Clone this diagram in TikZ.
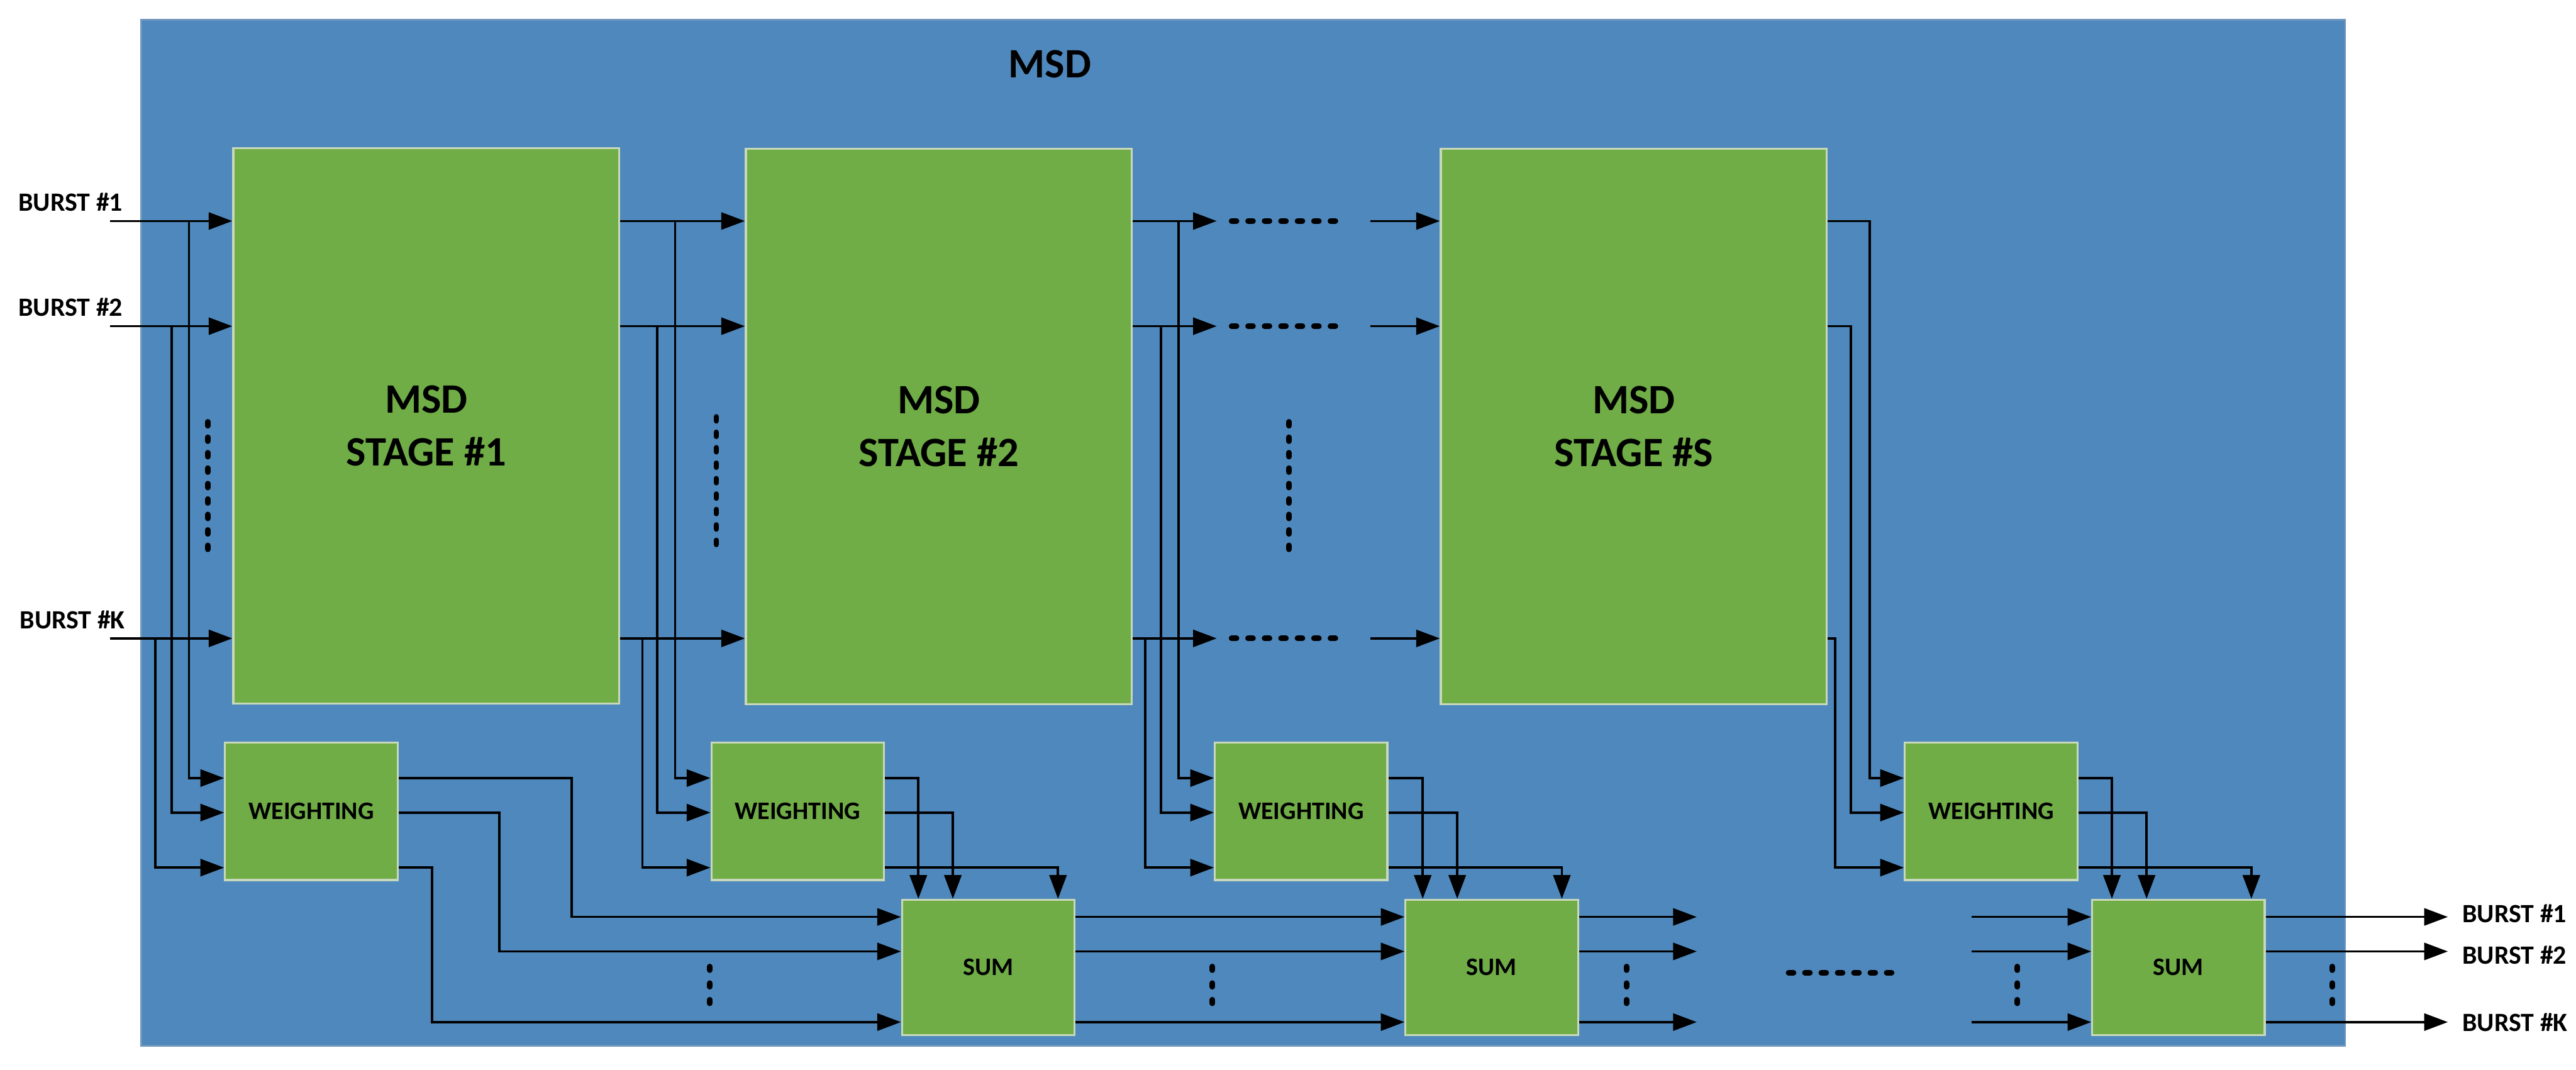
\documentclass[tikz,border=0pt]{standalone}
\usepackage{fontspec}
\setmainfont{Carlito}
\usetikzlibrary{arrows.meta,calc}
\definecolor{bgblue}{RGB}{79,136,188}
\definecolor{blueedge}{RGB}{110,150,190}
\definecolor{boxgreen}{RGB}{112,173,71}
\definecolor{boxedge}{RGB}{200,216,186}
\begin{document}
\begin{tikzpicture}[x=0.25mm,y=-0.25mm,
  wire/.style={line width=0.35mm, black},
  arr/.style={wire, -{Triangle[length=3.6mm,width=2.6mm]}},
  stagebox/.style={draw=boxedge, line width=0.3mm, fill=boxgreen, inner sep=0pt,
    minimum width=58.75mm, minimum height=84.5mm, align=center,
    font=\bfseries\fontsize{18.1pt}{22.9pt}\selectfont},
  smallbox/.style={draw=boxedge, line width=0.3mm, fill=boxgreen, inner sep=0pt,
    minimum width=26.25mm, font=\bfseries\fontsize{10.9pt}{13pt}\selectfont},
  wbox/.style={smallbox, minimum height=20.9mm},
  sbox/.style={smallbox, minimum height=20.6mm},
  lab/.style={inner sep=0pt, font=\bfseries\fontsize{11.4pt}{13pt}\selectfont},
  dotstroke/.style={line width=0.85mm, line cap=round, black}
]
\useasboundingbox (0,0) rectangle (1568,651);
% container
\fill[bgblue, draw=blueedge, line width=0.25mm] (86,12) rectangle (1427.5,636.5);
\node[inner sep=0pt, anchor=base, font=\bfseries\fontsize{18.1pt}{22pt}\selectfont] (title) at (639,47.3) {MSD};

% row coordinates
\coordinate (ra) at (0,134.5);
\coordinate (rb) at (0,198.5);
\coordinate (rc) at (0,388.5);
\coordinate (wa) at (0,473.5);
\coordinate (wb) at (0,494.5);
\coordinate (wc) at (0,528);
\coordinate (sa) at (0,558);
\coordinate (sb) at (0,579);
\coordinate (sc) at (0,622);

% blocks
\node[stagebox] (stage1) at (259.5,259.25) {MSD\\STAGE \#1};
\node[stagebox] (stage2) at (571.5,259.5) {MSD\\STAGE \#2};
\node[stagebox] (stageS) at (994.5,259.5) {MSD\\STAGE \#S};
\node[wbox] (w1) at (189.5,493.75) {WEIGHTING};
\node[wbox] (w2) at (485.5,493.75) {WEIGHTING};
\node[wbox] (w3) at (792,493.75) {WEIGHTING};
\node[wbox] (wS) at (1212,493.75) {WEIGHTING};
\node[sbox] (sum1) at (601.5,588.75) {SUM};
\node[sbox] (sum2) at (908,588.75) {SUM};
\node[sbox] (sumS) at (1326,588.75) {SUM};

% labels
\node[lab, anchor=base west] (lin1) at (11,128.5) {BURST \#1};
\node[lab, anchor=base west] (lin2) at (11,192.3) {BURST \#2};
\node[lab, anchor=base west] (linK) at (11.8,382.8) {BURST \#K};
\node[lab, anchor=base west] (lout1) at (1498.6,561.4) {BURST \#1};
\node[lab, anchor=base west] (lout2) at (1498.6,586.5) {BURST \#2};
\node[lab, anchor=base west] (loutK) at (1498.6,627.6) {BURST \#K};

% section 1: inputs
\coordinate (in1) at (67,134.5);
\coordinate (in2) at (67,198.5);
\coordinate (inK) at (67,388.5);
\draw[arr] (in1) -- (stage1.west |- ra);
\draw[arr] (in2) -- (stage1.west |- rb);
\draw[arr] (inK) -- (stage1.west |- rc);
\draw[arr] (115,134.5) |- (w1.west |- wa);
\draw[arr] (104.5,198.5) |- (w1.west |- wb);
\draw[arr] (94.5,388.5) |- (w1.west |- wc);

% section 2
\draw[arr] (stage1.east |- ra) -- (stage2.west |- ra);
\draw[arr] (stage1.east |- rb) -- (stage2.west |- rb);
\draw[arr] (stage1.east |- rc) -- (stage2.west |- rc);
\draw[arr] (411,134.5) |- (w2.west |- wa);
\draw[arr] (400,198.5) |- (w2.west |- wb);
\draw[arr] (391,388.5) |- (w2.west |- wc);

% section 3
\coordinate (m1) at (740.6,134.5);
\coordinate (m2) at (740.6,198.5);
\coordinate (mK) at (740.6,388.5);
\coordinate (n1) at (834,134.5);
\coordinate (n2) at (834,198.5);
\coordinate (nK) at (834,388.5);
\draw[arr] (stage2.east |- ra) -- (m1);
\draw[arr] (stage2.east |- rb) -- (m2);
\draw[arr] (stage2.east |- rc) -- (mK);
\draw[arr] (n1) -- (stageS.west |- ra);
\draw[arr] (n2) -- (stageS.west |- rb);
\draw[arr] (nK) -- (stageS.west |- rc);
\draw[arr] (717.5,134.5) |- (w3.west |- wa);
\draw[arr] (706.7,198.5) |- (w3.west |- wb);
\draw[arr] (697,388.5) |- (w3.west |- wc);

% section S
\draw[arr] (stageS.east |- ra) -- (1138,134.5) |- (wS.west |- wa);
\draw[arr] (stageS.east |- rb) -- (1126.7,198.5) |- (wS.west |- wb);
\draw[arr] (stageS.east |- rc) -- (1117,388.5) |- (wS.west |- wc);

% weighting 1 -> sum1
\draw[arr] (w1.east |- wa) -- (348,473.5) |- (sum1.west |- sa);
\draw[arr] (w1.east |- wb) -- (304,494.5) |- (sum1.west |- sb);
\draw[arr] (w1.east |- wc) -- (263,528) |- (sum1.west |- sc);
% weighting 2 -> sum1 top
\draw[arr] (w2.east |- wa) -| (sum1.north -| 559,0);
\draw[arr] (w2.east |- wb) -| (sum1.north -| 580,0);
\draw[arr] (w2.east |- wc) -| (sum1.north -| 644,0);
% weighting 3 -> sum2 top
\draw[arr] (w3.east |- wa) -| (sum2.north -| 866,0);
\draw[arr] (w3.east |- wb) -| (sum2.north -| 887,0);
\draw[arr] (w3.east |- wc) -| (sum2.north -| 950.7,0);
% weighting S -> sumS top
\draw[arr] (wS.east |- wa) -| (sumS.north -| 1285.5,0);
\draw[arr] (wS.east |- wb) -| (sumS.north -| 1306.6,0);
\draw[arr] (wS.east |- wc) -| (sumS.north -| 1370.4,0);

% sum chain
\draw[arr] (sum1.east |- sa) -- (sum2.west |- sa);
\draw[arr] (sum1.east |- sb) -- (sum2.west |- sb);
\draw[arr] (sum1.east |- sc) -- (sum2.west |- sc);
\coordinate (p1) at (1032.8,558);
\coordinate (p2) at (1032.8,579);
\coordinate (pK) at (1032.8,622);
\draw[arr] (sum2.east |- sa) -- (p1);
\draw[arr] (sum2.east |- sb) -- (p2);
\draw[arr] (sum2.east |- sc) -- (pK);
\coordinate (q1) at (1200,558);
\coordinate (q2) at (1200,579);
\coordinate (qK) at (1200,622);
\draw[arr] (q1) -- (sumS.west |- sa);
\draw[arr] (q2) -- (sumS.west |- sb);
\draw[arr] (qK) -- (sumS.west |- sc);
\draw[arr] (sumS.east |- sa) -- ($(lout1.west |- sa)+(-8.6,0)$);
\draw[arr] (sumS.east |- sb) -- ($(lout2.west |- sb)+(-8.6,0)$);
\draw[arr] (sumS.east |- sc) -- ($(loutK.west |- sc)+(-8.6,0)$);

% dotted ellipses: vertical columns between rows
\foreach \x/\y in {126.5/256.7, 436/253.7, 784.6/256.7}
  \foreach \i in {0,...,8}
    \draw[dotstroke] (\x,\y+\i*9.4) -- ++(0,2.4);
% horizontal dashes on the rows
\foreach \y in {134.5,198.5,388.5}
  \foreach \i in {0,...,6}
    \draw[dotstroke] (749.65+\i*10.03,\y) -- ++(3,0);
% bottom horizontal dashes
\foreach \i in {0,...,6}
  \draw[dotstroke] (1088.7+\i*9.95,592) -- ++(3,0);
% vertical dashes between sum rows
\foreach \x in {432,738,990,1228,1419.6}
  \foreach \i in {0,...,2}
    \draw[dotstroke] (\x,588.2+\i*10.1) -- ++(0,2.2);
\end{tikzpicture}
\end{document}
